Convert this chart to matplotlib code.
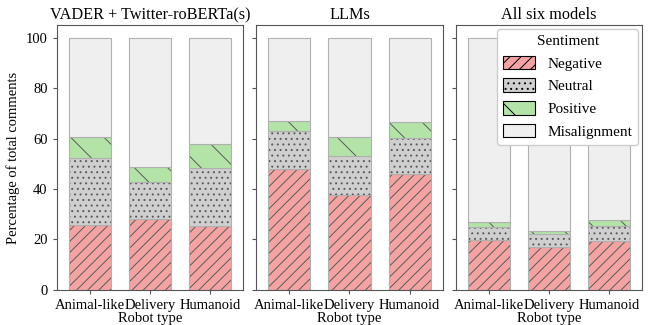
import matplotlib
matplotlib.use("Agg")
import matplotlib.pyplot as plt
from matplotlib.patches import Patch
import numpy as np

plt.rcParams['font.family'] = ['Liberation Serif', 'DejaVu Serif']
plt.rcParams['hatch.linewidth'] = 0.7

# === Data ===
robot_types = ["Animal-like", "Delivery", "Humanoid"]
panel_titles = ["VADER + Twitter-roBERTa(s)", "LLMs", "All six models"]
sentiments = ["Negative", "Neutral", "Positive", "Misalignment"]

negative = [[25.6, 28.0, 25.2], [48.0, 37.6, 46.1], [19.6, 17.0, 19.4]]
neutral = [[26.6, 14.7, 23.3], [14.9, 15.5, 14.0], [5.5, 5.1, 5.8]]
positive = [[8.4, 6.2, 9.2], [3.9, 7.5, 6.3], [1.8, 1.4, 2.4]]

colors = ["#f4a3a3", "#cfcfcf", "#b4e3a8", "#efefef"]
hatches = ["///", "...", "\\", ""]

fig, axes = plt.subplots(1, 3, figsize=(6.52, 3.25), dpi=100, sharey=True)
x = np.arange(len(robot_types))

for i, ax in enumerate(axes):
    neg = np.array(negative[i])
    neu = np.array(neutral[i])
    pos = np.array(positive[i])
    mis = 100 - neg - neu - pos
    bottom = np.zeros(3)
    for vals, c, h in zip([neg, neu, pos, mis], colors, hatches):
        # fill + dark hatch, then a light outline on top
        ax.bar(x, vals, width=0.7, bottom=bottom, color=c, hatch=h,
               edgecolor='#5a5a5a', linewidth=0)
        ax.bar(x, vals, width=0.7, bottom=bottom, fill=False,
               edgecolor='#b0b0b0', linewidth=0.8)
        bottom += vals
    ax.set_xticks(x)
    ax.set_xticklabels(robot_types, fontsize=10.5)
    ax.set_xlim(-0.55, 2.55)
    ax.set_ylim(0, 105)
    ax.set_title(panel_titles[i], fontsize=11.7, pad=4)
    ax.set_xlabel("Robot type", fontsize=10.5, labelpad=0)
    ax.tick_params(axis='both', labelsize=10.5, length=3, color='#555555')
    for s in ax.spines.values():
        s.set_color('#555555')
        s.set_linewidth(0.8)

axes[0].set_ylabel("Percentage of total comments", fontsize=10.5)
axes[0].set_yticks([0, 20, 40, 60, 80, 100])

handles = [Patch(facecolor=c, hatch=h, edgecolor='black', linewidth=0.8)
           for c, h in zip(colors, hatches)]
axes[2].legend(handles, sentiments, title="Sentiment", loc='upper right',
               fontsize=11, title_fontsize=11, handlelength=2.1,
               handleheight=1.0, labelspacing=0.5, borderaxespad=0.25,
               framealpha=1)

plt.subplots_adjust(left=0.087, right=0.985, top=0.923, bottom=0.108, wspace=0.07)
fig.savefig("out.png", dpi=100)
